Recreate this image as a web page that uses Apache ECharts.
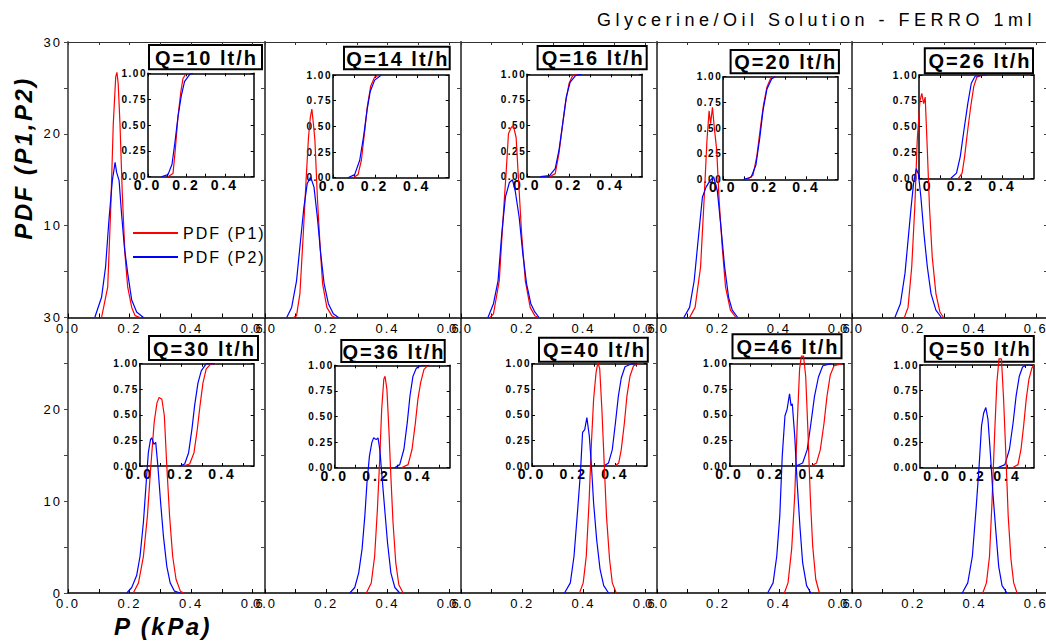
<!DOCTYPE html>
<html>
<head>
<meta charset="utf-8">
<script src="https://cdn.jsdelivr.net/npm/echarts@6/dist/echarts.min.js"></script>
<style>
  html, body { margin: 0; padding: 0; background: #fff; }
  #chart { width: 1046px; height: 642px; }
  /* wide letter spacing of the exported plot fonts, keyed on font size */
  #chart svg text[style*="18px"] { letter-spacing: 4.5px; }
  #chart svg text[style*="20px"] { letter-spacing: 2px; }
  #chart svg text[style*="13px"] { letter-spacing: 2px; }
  #chart svg text[style*="16px"] { letter-spacing: 2px; }
  #chart svg text[style*="10px"] { letter-spacing: 1.5px; }
  #chart svg text[style*="14px"] { letter-spacing: 3px; }
  #chart svg text[style*="24px"] { letter-spacing: 2.5px; }
</style>
</head>
<body>
<div id="chart"></div>
<script>
// Flow rates of the ten runs
const flowRates = [10, 14, 16, 20, 26, 30, 36, 40, 46, 50];

// Pressure PDFs, pairs of [P (kPa), PDF]
const pdfP1Q10 = [[0.109,0],[0.129,3.3],[0.139,12.0],[0.147,21.0],[0.155,26.2],[0.159,26.7],[0.163,25.5],[0.169,21.0],[0.176,13.8],[0.185,6.9],[0.194,3.3],[0.207,1.1],[0.218,0.2],[0.234,0]];
const pdfP1Q14 = [[0.093,0],[0.103,0.2],[0.114,2.6],[0.125,9.1],[0.134,14.9],[0.142,19.6],[0.148,21.8],[0.153,22.7],[0.158,21.1],[0.163,19.3],[0.171,13.1],[0.180,7.7],[0.188,3.7],[0.202,1.1],[0.218,0.2],[0.229,0]];
const pdfP1Q16 = [[0.095,0],[0.106,0.4],[0.125,4.0],[0.137,10.6],[0.147,15.6],[0.155,20.0],[0.164,20.7],[0.171,20.9],[0.180,19.6],[0.188,14.9],[0.198,9.1],[0.210,4.0],[0.226,1.1],[0.241,0.2],[0.253,0]];
const pdfP1Q20 = [[0.107,0],[0.125,1.1],[0.143,5.5],[0.155,13.1],[0.164,19.3],[0.171,22.5],[0.176,21.1],[0.182,22.9],[0.188,20.7],[0.196,18.2],[0.204,12.7],[0.214,7.7],[0.225,3.3],[0.241,0.8],[0.259,0]];
const pdfP1Q26 = [[0.171,0],[0.183,1.1],[0.195,5.5],[0.205,12.0],[0.213,19.3],[0.222,23.6],[0.228,24.4],[0.234,23.3],[0.239,24.0],[0.246,18.2],[0.253,12.0],[0.262,6.6],[0.274,2.6],[0.287,0.6],[0.299,0]];
const pdfP1Q30 = [[0.212,0],[0.229,1.1],[0.245,4.0],[0.258,8.4],[0.269,13.8],[0.280,18.6],[0.289,20.7],[0.296,21.3],[0.305,21.1],[0.313,19.3],[0.321,13.8],[0.330,8.4],[0.340,4.0],[0.351,1.5],[0.365,0.2],[0.376,0]];
const pdfP1Q36 = [[0.331,0],[0.347,1.1],[0.358,4.0],[0.367,9.1],[0.375,14.9],[0.381,20.0],[0.388,23.3],[0.392,23.6],[0.398,22.2],[0.404,18.2],[0.411,12.7],[0.418,7.7],[0.427,3.3],[0.437,0.9],[0.451,0]];
const pdfP1Q40 = [[0.387,0],[0.399,1.1],[0.409,4.0],[0.418,9.8],[0.426,16.4],[0.433,21.1],[0.441,24.0],[0.447,25.1],[0.453,24.4],[0.460,20.0],[0.468,13.8],[0.475,8.4],[0.485,3.7],[0.494,1.1],[0.507,0]];
const pdfP1Q46 = [[0.418,0],[0.430,1.1],[0.442,4.8],[0.452,10.6],[0.460,18.2],[0.468,24.4],[0.474,25.8],[0.481,25.8],[0.488,23.6],[0.496,17.1],[0.503,10.6],[0.511,5.1],[0.521,1.5],[0.533,0]];
const pdfP1Q50 = [[0.427,0],[0.439,1.1],[0.449,4.0],[0.457,9.8],[0.466,17.5],[0.473,22.9],[0.480,25.5],[0.488,25.5],[0.495,21.1],[0.503,14.6],[0.510,8.4],[0.519,3.7],[0.528,1.1],[0.539,0]];

const pdfP2Q10 = [[0.087,0],[0.109,2.2],[0.122,5.5],[0.133,10.6],[0.144,14.9],[0.153,16.9],[0.158,15.8],[0.166,14.9],[0.174,11.3],[0.183,7.7],[0.194,4.8],[0.207,1.9],[0.223,0.6],[0.245,0]];
const pdfP2Q14 = [[0.071,0],[0.087,1.1],[0.103,4.0],[0.114,7.7],[0.127,12.0],[0.138,14.6],[0.149,15.3],[0.160,14.2],[0.171,10.9],[0.182,6.9],[0.193,3.7],[0.207,1.5],[0.223,0.4],[0.240,0]];
const pdfP2Q16 = [[0.088,0],[0.106,1.5],[0.121,4.0],[0.133,9.1],[0.145,13.1],[0.158,14.7],[0.168,15.0],[0.177,13.8],[0.190,10.9],[0.202,6.9],[0.214,3.7],[0.228,1.5],[0.241,0.6],[0.255,0]];
const pdfP2Q20 = [[0.088,0],[0.107,1.1],[0.122,4.0],[0.137,9.1],[0.149,13.1],[0.161,14.2],[0.174,14.9],[0.186,15.3],[0.198,13.8],[0.210,9.8],[0.222,5.5],[0.235,2.2],[0.247,0.8],[0.265,0]];
const pdfP2Q26 = [[0.140,0],[0.158,1.5],[0.173,4.8],[0.183,8.4],[0.193,12.0],[0.201,14.6],[0.210,16.2],[0.217,15.6],[0.225,13.1],[0.235,9.1],[0.246,5.5],[0.258,2.6],[0.274,0.8],[0.292,0]];
const pdfP2Q30 = [[0.191,0],[0.207,0.6],[0.223,1.9],[0.234,4.0],[0.245,7.7],[0.254,12.0],[0.261,15.3],[0.268,16.7],[0.272,16.9],[0.279,16.2],[0.285,16.4],[0.292,13.8],[0.301,9.8],[0.310,6.2],[0.321,2.9],[0.332,1.1],[0.346,0.2],[0.365,0]];
const pdfP2Q36 = [[0.277,0],[0.293,0.6],[0.306,2.2],[0.317,4.8],[0.326,8.4],[0.333,12.0],[0.341,14.9],[0.349,16.4],[0.355,16.9],[0.363,16.7],[0.369,16.9],[0.375,15.6],[0.382,12.7],[0.391,9.1],[0.400,5.5],[0.411,2.2],[0.424,0.6],[0.440,0]];
const pdfP2Q40 = [[0.338,0],[0.357,1.1],[0.369,4.0],[0.381,9.1],[0.390,13.1],[0.397,17.5],[0.404,17.8],[0.411,19.1],[0.419,17.1],[0.426,13.8],[0.433,9.8],[0.443,5.8],[0.454,2.6],[0.466,0.8],[0.482,0]];
const pdfP2Q46 = [[0.363,0],[0.381,1.1],[0.393,4.0],[0.403,8.4],[0.411,14.9],[0.420,19.3],[0.427,20.0],[0.435,21.7],[0.440,20.4],[0.444,20.6],[0.452,17.1],[0.460,12.0],[0.469,7.3],[0.478,3.3],[0.491,0.8],[0.505,0]];
const pdfP2Q50 = [[0.360,0],[0.378,1.1],[0.393,4.0],[0.405,9.1],[0.415,13.8],[0.423,18.2],[0.430,19.6],[0.437,20.2],[0.444,18.9],[0.451,15.6],[0.460,10.9],[0.470,6.6],[0.479,2.9],[0.490,0.8],[0.506,0]];

// Cumulative distributions shown in the insets, pairs of [P (kPa), CDF]
const cdfP1Q10 = [[0.104,0],[0.130,0.03],[0.142,0.26],[0.156,0.58],[0.170,0.81],[0.182,0.95],[0.199,1.0],[0.215,1.0]];
const cdfP1Q14 = [[0.095,0],[0.119,0.03],[0.135,0.17],[0.151,0.46],[0.163,0.69],[0.179,0.89],[0.198,0.98],[0.222,1.0]];
const cdfP1Q16 = [[0.107,0],[0.134,0.03],[0.152,0.23],[0.170,0.52],[0.184,0.73],[0.200,0.91],[0.218,0.99],[0.241,1.0]];
const cdfP1Q20 = [[0.116,0],[0.143,0.04],[0.161,0.22],[0.179,0.51],[0.193,0.72],[0.210,0.90],[0.227,0.98],[0.250,1.0]];
const cdfP1Q26 = [[0.188,0],[0.206,0.05],[0.218,0.21],[0.233,0.47],[0.247,0.69],[0.262,0.89],[0.277,0.98],[0.304,1.0]];
const cdfP1Q30 = [[0.209,0],[0.241,0.02],[0.262,0.13],[0.278,0.36],[0.291,0.59],[0.305,0.81],[0.321,0.95],[0.345,1.0],[0.370,1.0]];
const cdfP1Q36 = [[0.319,0],[0.351,0.03],[0.370,0.18],[0.386,0.44],[0.398,0.67],[0.411,0.83],[0.427,0.96],[0.446,1.0],[0.462,1.0]];
const cdfP1Q40 = [[0.398,0],[0.416,0.03],[0.428,0.16],[0.443,0.42],[0.455,0.68],[0.470,0.88],[0.487,0.98],[0.514,1.0]];
const cdfP1Q46 = [[0.392,0],[0.419,0.03],[0.437,0.16],[0.455,0.42],[0.469,0.68],[0.485,0.89],[0.503,0.98],[0.544,1.0]];
const cdfP1Q50 = [[0.428,0],[0.460,0.03],[0.477,0.18],[0.492,0.41],[0.507,0.67],[0.522,0.86],[0.539,0.97],[0.550,1.0]];

const cdfP2Q10 = [[0.069,0],[0.104,0.02],[0.125,0.12],[0.142,0.36],[0.156,0.58],[0.173,0.78],[0.190,0.92],[0.217,0.99],[0.234,1.0]];
const cdfP2Q14 = [[0.071,0],[0.103,0.03],[0.127,0.17],[0.146,0.41],[0.162,0.66],[0.177,0.84],[0.198,0.95],[0.230,1.0]];
const cdfP2Q16 = [[0.063,0],[0.107,0.01],[0.134,0.08],[0.152,0.26],[0.170,0.52],[0.187,0.78],[0.205,0.92],[0.232,0.99],[0.259,1.0]];
const cdfP2Q20 = [[0.098,0],[0.134,0.02],[0.157,0.14],[0.176,0.41],[0.191,0.67],[0.210,0.88],[0.233,0.98],[0.250,1.0]];
const cdfP2Q26 = [[0.152,0],[0.179,0.05],[0.197,0.21],[0.215,0.47],[0.233,0.72],[0.250,0.92],[0.269,0.99],[0.322,1.0]];
const cdfP2Q30 = [[0.193,0],[0.217,0.02],[0.236,0.13],[0.252,0.36],[0.265,0.59],[0.281,0.81],[0.297,0.93],[0.321,1.0],[0.362,1.0]];
const cdfP2Q36 = [[0.287,0],[0.311,0.03],[0.331,0.18],[0.347,0.44],[0.360,0.70],[0.374,0.89],[0.390,0.97],[0.414,1.0],[0.454,1.0]];
const cdfP2Q40 = [[0.344,0],[0.367,0.03],[0.385,0.16],[0.400,0.42],[0.414,0.68],[0.428,0.86],[0.446,0.97],[0.478,1.0],[0.505,1.0]];
const cdfP2Q46 = [[0.320,0],[0.352,0.03],[0.374,0.16],[0.392,0.42],[0.409,0.68],[0.428,0.87],[0.449,0.98],[0.490,1.0]];
const cdfP2Q50 = [[0.343,0],[0.385,0.03],[0.411,0.18],[0.432,0.44],[0.449,0.70],[0.467,0.89],[0.486,0.98],[0.513,1.0],[0.534,1.0]];

const pdfP1 = [pdfP1Q10, pdfP1Q14, pdfP1Q16, pdfP1Q20, pdfP1Q26, pdfP1Q30, pdfP1Q36, pdfP1Q40, pdfP1Q46, pdfP1Q50];
const pdfP2 = [pdfP2Q10, pdfP2Q14, pdfP2Q16, pdfP2Q20, pdfP2Q26, pdfP2Q30, pdfP2Q36, pdfP2Q40, pdfP2Q46, pdfP2Q50];
const cdfP1 = [cdfP1Q10, cdfP1Q14, cdfP1Q16, cdfP1Q20, cdfP1Q26, cdfP1Q30, cdfP1Q36, cdfP1Q40, cdfP1Q46, cdfP1Q50];
const cdfP2 = [cdfP2Q10, cdfP2Q14, cdfP2Q16, cdfP2Q20, cdfP2Q26, cdfP2Q30, cdfP2Q36, cdfP2Q40, cdfP2Q46, cdfP2Q50];

// Tick labels
const mainXLabels = [0, 0.2, 0.4, 0.6];
const mainYLabels = [0, 10, 20, 30];
const insetXLabels = [0, 0.2, 0.4];
const insetYLabels = [0, 0.25, 0.5, 0.75, 1];
const seriesNames = ['PDF (P1)', 'PDF (P2)'];

// Layout of the panel grid, the insets and the flow-rate boxes (pixels)
const panelLefts = [68, 265, 461, 657, 852];
const rowTops = [42, 317.5];
const panelHeight = 275.5;
const lastPanelWidth = 196;
const insetBoxes = [
  [148, 73.3, 105.7, 103.4], [333, 75, 115.7, 102.7], [527.2, 74.3, 115, 102.4],
  [723.2, 76.7, 114.6, 102.6], [919.2, 75, 114.6, 103.3],
  [139.7, 363.7, 114, 102.3], [334.7, 365.3, 115, 102.4], [532, 363.7, 114.7, 102.3],
  [729.5, 363.7, 114.3, 102.3], [920, 365, 113.8, 102.7]
];
const insetXRange = [[0, 0.55], [0, 0.55], [0, 0.55], [0, 0.55], [0, 0.55],
                     [0, 0.55], [0, 0.55], [0, 0.55], [0, 0.55], [-0.1, 0.55]];
const qBoxes = [
  [149, 45, 113, 24.3], [344, 46.7, 105.7, 22.6], [537.6, 46, 109.1, 23.3],
  [730.6, 50, 108.3, 23.3], [924.8, 48.3, 108.2, 25],
  [149, 336, 109, 24], [341.3, 340, 103.4, 22], [539, 337.7, 108.8, 24],
  [732.5, 334.3, 109, 24], [924.8, 336, 109, 25.7]
];

const FONT = 'Arial, "Liberation Sans", sans-serif';
const RED = '#ff0000';
const BLUE = '#0000ff';

// tick positions between the labelled values
function stepsBetween(a, b, step) {
  const out = [];
  for (let v = a; v <= b + 1e-9; v += step) out.push(Math.round(v * 1000) / 1000);
  return out;
}
const mainXTicks = stepsBetween(0, 0.6, 0.1);
const mainYTicks = stepsBetween(0, 30, 5);
const insetXTicks = stepsBetween(0, 0.5, 0.1);

const grid = [], xAxis = [], yAxis = [], series = [], graphic = [];

// main panels: grid indices 0..9
for (let p = 0; p < 10; p++) {
  const row = Math.floor(p / 5), col = p % 5;
  const left = panelLefts[col];
  const width = col < 4 ? panelLefts[col + 1] - left : lastPanelWidth;
  grid.push({ left: left, top: rowTops[row], width: width, height: panelHeight, outerBoundsMode: 'none', containLabel: false });
}
// insets: grid indices 10..19
for (let p = 0; p < 10; p++) {
  const b = insetBoxes[p];
  grid.push({ left: b[0], top: b[1], width: b[2], height: b[3], outerBoundsMode: 'none', containLabel: false });
}

for (let p = 0; p < 10; p++) {
  const row = Math.floor(p / 5), col = p % 5;
  // bottom P axis
  xAxis.push({
    gridIndex: p, type: 'value', min: 0, max: 0.64, position: 'bottom',
    axisLine: { show: true, onZero: false, lineStyle: { color: '#000', width: 1.5 } },
    axisTick: { show: true, inside: true, length: 4, customValues: mainXTicks, lineStyle: { color: '#000', width: 1 } },
    axisLabel: { show: true, customValues: mainXLabels, formatter: v => v.toFixed(1),
                 fontSize: 13, fontFamily: FONT, color: '#000', margin: 4 },
    splitLine: { show: false }
  });
  // top frame
  xAxis.push({
    gridIndex: p, type: 'value', min: 0, max: 0.64, position: 'top', show: row === 0,
    axisLine: { show: true, onZero: false, lineStyle: { color: '#333', width: 1.2 } },
    axisTick: { show: true, inside: true, length: 3, customValues: mainXTicks, lineStyle: { color: '#333' } },
    axisLabel: { show: false }, splitLine: { show: false }
  });
  // left PDF axis
  yAxis.push({
    gridIndex: p, type: 'value', min: 0, max: 30, position: 'left',
    axisLine: { show: true, onZero: false, lineStyle: { color: '#555', width: 1.8 } },
    axisTick: { show: true, inside: false, length: 4, customValues: mainYTicks, lineStyle: { color: '#444' } },
    axisLabel: { show: col === 0, customValues: row === 0 ? mainYLabels.slice(1) : mainYLabels,
                 fontSize: 13, fontFamily: FONT, color: '#000', margin: 6 },
    splitLine: { show: false }
  });
  // right frame
  yAxis.push({
    gridIndex: p, type: 'value', min: 0, max: 30, position: 'right',
    axisLine: { show: true, onZero: false, lineStyle: { color: '#555', width: 1.8 } },
    axisTick: { show: true, inside: true, length: 4, customValues: mainYTicks, lineStyle: { color: '#444' } },
    axisLabel: { show: false }, splitLine: { show: false }
  });
}

for (let p = 0; p < 10; p++) {
  const g = 10 + p;
  const r = insetXRange[p];
  xAxis.push({
    gridIndex: g, type: 'value', min: r[0], max: r[1], position: 'bottom',
    axisLine: { show: true, onZero: false, lineStyle: { color: '#000', width: 1.5 } },
    axisTick: { show: true, inside: true, length: 3, customValues: insetXTicks, lineStyle: { color: '#000' } },
    axisLabel: { show: true, customValues: insetXLabels, formatter: v => v.toFixed(1),
                 fontSize: 14, fontWeight: 'bold', fontFamily: FONT, color: '#000', margin: 1 },
    splitLine: { show: false }
  });
  xAxis.push({
    gridIndex: g, type: 'value', min: r[0], max: r[1], position: 'top',
    axisLine: { show: true, onZero: false, lineStyle: { color: '#000', width: 1.5 } },
    axisTick: { show: true, inside: true, length: 3, customValues: insetXTicks, lineStyle: { color: '#000' } },
    axisLabel: { show: false }, splitLine: { show: false }
  });
  yAxis.push({
    gridIndex: g, type: 'value', min: 0, max: 1, position: 'left',
    axisLine: { show: true, onZero: false, lineStyle: { color: '#000', width: 1.5 } },
    axisTick: { show: true, inside: true, length: 3, customValues: insetYLabels, lineStyle: { color: '#000' } },
    axisLabel: { show: true, customValues: insetYLabels, formatter: v => v.toFixed(2),
                 fontSize: 10, fontWeight: 'bold', fontFamily: FONT, color: '#000', margin: 1 },
    splitLine: { show: false }
  });
  yAxis.push({
    gridIndex: g, type: 'value', min: 0, max: 1, position: 'right',
    axisLine: { show: true, onZero: false, lineStyle: { color: '#000', width: 1.5 } },
    axisTick: { show: true, inside: true, length: 3, customValues: insetYLabels, lineStyle: { color: '#000' } },
    axisLabel: { show: false }, splitLine: { show: false }
  });
}

function line(name, data, xi, yi, color, z) {
  return {
    type: 'line', name: name, data: data, xAxisIndex: xi, yAxisIndex: yi,
    showSymbol: false, symbol: 'none', smooth: false, silent: true, z: z,
    lineStyle: { color: color, width: 1.2 }, itemStyle: { color: color }
  };
}

for (let p = 0; p < 10; p++) {
  const ix = 20 + 2 * p;
  series.push(line('CDF (P1)', cdfP1[p], ix, ix, RED, 3));
  series.push(line('CDF (P2)', cdfP2[p], ix, ix, BLUE, 3));
}
for (let p = 0; p < 10; p++) {
  series.push(line(seriesNames[0], pdfP1[p], 2 * p, 2 * p, RED, 5));
  series.push(line(seriesNames[1], pdfP2[p], 2 * p, 2 * p, BLUE, 5));
}

// flow-rate boxes
for (let p = 0; p < 10; p++) {
  const b = qBoxes[p];
  graphic.push({
    type: 'group', z: 100,
    children: [
      { type: 'rect', shape: { x: b[0], y: b[1], width: b[2], height: b[3] },
        style: { fill: '#fff', stroke: '#000', lineWidth: 2 } },
      { type: 'text', x: b[0] + b[2] / 2 + 1, y: b[1] + b[3] / 2 + 0.5,
        style: { text: 'Q=' + flowRates[p] + ' lt/h', fill: '#000',
                 fontSize: 20, fontWeight: 'bold', fontFamily: FONT,
                 align: 'center', verticalAlign: 'middle', textAlign: 'center', textVerticalAlign: 'middle' } }
    ]
  });
}

// headline and axis titles
graphic.push({
  type: 'text', x: 1036, y: 20, z: 100,
  style: { text: 'Glycerine/Oil Solution - FERRO 1ml', fill: '#000', fontSize: 18, fontFamily: FONT,
           align: 'right', verticalAlign: 'middle', textAlign: 'right', textVerticalAlign: 'middle' }
});
graphic.push({
  type: 'text', x: 23, y: 158, rotation: Math.PI / 2, z: 100,
  style: { text: 'PDF (P1,P2)', fill: '#000', fontSize: 24, fontWeight: 'bold', fontStyle: 'italic', fontFamily: FONT,
           align: 'center', verticalAlign: 'middle', textAlign: 'center', textVerticalAlign: 'middle' }
});
graphic.push({
  type: 'text', x: 163, y: 626, z: 100,
  style: { text: 'P (kPa)', fill: '#000', fontSize: 24, fontWeight: 'bold', fontStyle: 'italic', fontFamily: FONT,
           align: 'center', verticalAlign: 'middle', textAlign: 'center', textVerticalAlign: 'middle' }
});

const chart = echarts.init(document.getElementById('chart'), null, { renderer: 'svg', width: 1046, height: 642 });
chart.setOption({
  animation: false,
  backgroundColor: '#fff',
  textStyle: { fontFamily: FONT },
  grid: grid,
  xAxis: xAxis,
  yAxis: yAxis,
  legend: {
    data: seriesNames, orient: 'vertical', left: 133, top: 225, padding: 0,
    itemWidth: 45, itemHeight: 2, itemGap: 8, icon: 'rect', selectedMode: false,
    textStyle: { fontSize: 16, fontFamily: FONT, color: '#000' }
  },
  series: series,
  graphic: graphic
});
</script>
</body>
</html>
